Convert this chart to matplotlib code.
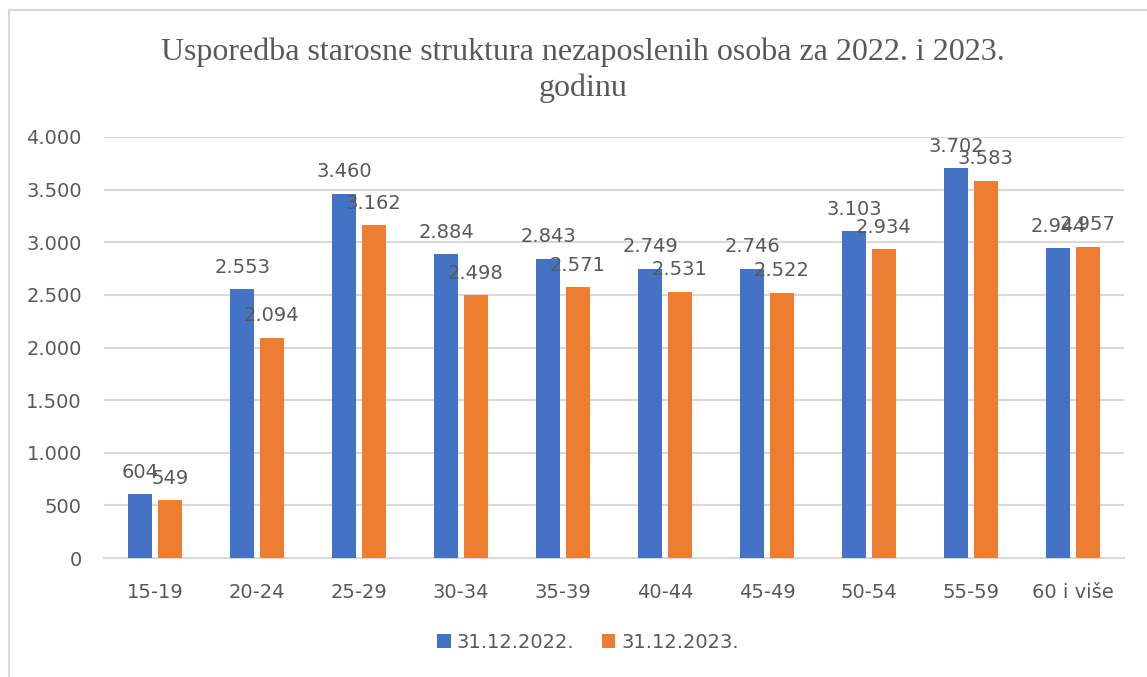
import matplotlib.pyplot as plt
import numpy as np
from matplotlib.patches import Rectangle

# data
categories = ["15-19", "20-24", "25-29", "30-34", "35-39", "40-44", "45-49", "50-54", "55-59", "60 i više"]
series_names = ["31.12.2022.", "31.12.2023."]
vals_2022 = [604, 2553, 3460, 2884, 2843, 2749, 2746, 3103, 3702, 2944]
vals_2023 = [549, 2094, 3162, 2498, 2571, 2531, 2522, 2934, 3583, 2957]
yticks = [0, 500, 1000, 1500, 2000, 2500, 3000, 3500, 4000]

colors = ["#4472C4", "#ED7D31"]
txt = "#595959"
grid = "#D9D9D9"

def fmt(v):
    return "{:,}".format(v).replace(",", ".")

W, H = 1147, 677
fig = plt.figure(figsize=(W / 100, H / 100), dpi=100)
ax = fig.add_axes([104 / W, 1 - 558 / H, 1020 / W, 421 / H])

# chart border (only top and left edges are visible in the crop)
fig.patches.append(Rectangle((9 / W, -0.1), 1.2, 1 - 10 / H + 0.1, transform=fig.transFigure,
                             fill=False, edgecolor="#D9D9D9", lw=1.5))

x = np.arange(len(categories))
bw = 0.23
off = 0.145
rects = []
for i, vals in enumerate([vals_2022, vals_2023]):
    r = ax.bar(x + (off if i else -off), vals, bw, color=colors[i], label=series_names[i], zorder=3)
    rects.append(r)
    for b, v in zip(r, vals):
        ax.annotate(fmt(v), (b.get_x() + b.get_width() / 2, v), xytext=(0, 9), textcoords="offset points",
                    ha="center", va="bottom", fontsize=14, color=txt)

ax.set_xlim(-0.5, len(categories) - 0.5)
ax.set_ylim(0, 4000)
ax.set_yticks(yticks)
ax.set_yticklabels([fmt(t) for t in yticks])
ax.set_xticks(x)
ax.set_xticklabels(categories)
ax.tick_params(axis="both", length=0, labelsize=14, labelcolor=txt)
ax.tick_params(axis="y", pad=16)
ax.tick_params(axis="x", pad=18)
ax.grid(axis="y", color=grid, lw=1.5, zorder=0)
for s in ["top", "right", "left"]:
    ax.spines[s].set_visible(False)
ax.spines["bottom"].set_color(grid)
ax.spines["bottom"].set_linewidth(1.5)

fig.text(583 / W, 1 - 70 / H, "Usporedba starosne struktura nezaposlenih osoba za 2022. i 2023.\ngodinu",
         ha="center", va="center", fontsize=23, color=txt, family="Liberation Serif", linespacing=1.3)

ax.legend(loc="center", bbox_to_anchor=(588 / W, 1 - 642 / H), bbox_transform=fig.transFigure, ncol=2,
          frameon=False, fontsize=14, labelcolor=txt, handlelength=0.7, handleheight=0.7,
          handletextpad=0.3, columnspacing=1.4)

fig.savefig("out.png", dpi=100)
